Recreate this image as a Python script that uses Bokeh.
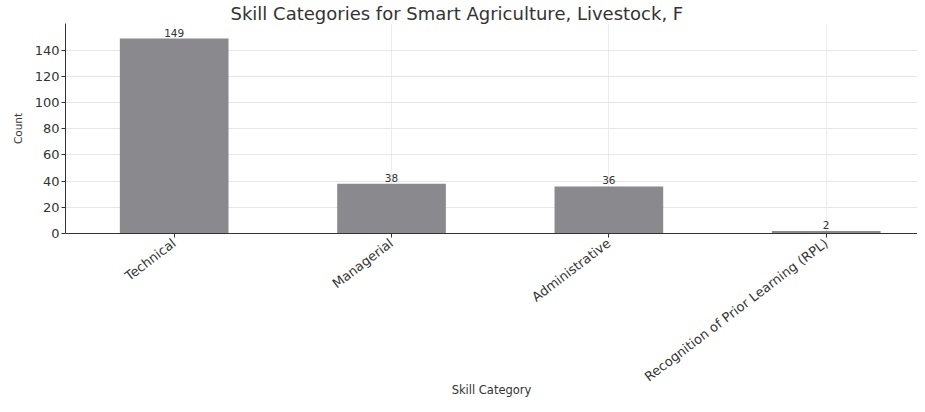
import math
from bokeh.plotting import figure
from bokeh.models import Range1d, FixedTicker, ColumnDataSource, LabelSet
from bokeh.core.properties import value
from bokeh.embed import file_html
from bokeh.resources import INLINE

categories = ["Technical", "Managerial", "Administrative", "Recognition of Prior Learning (RPL)"]
counts = [149, 38, 36, 2]
y_ticks = [0, 20, 40, 60, 80, 100, 120, 140]

xs = list(range(len(categories)))
src = ColumnDataSource(dict(x=xs, top=counts, label=[str(c) for c in counts]))

FONT = "DejaVu Sans"
p = figure(width=917, height=404, output_backend="svg", toolbar_location=None,
           x_range=Range1d(-0.5, 3.42), y_range=Range1d(0, 160.5),
           min_border_left=65, min_border_right=0, min_border_top=21, min_border_bottom=171,
           title="Skill Categories for Smart Agriculture, Livestock, F")
p.outline_line_color = None
p.background_fill_color = "white"
p.border_fill_color = "white"

p.title.text_font = FONT
p.title.text_font_size = "18px"
p.title.text_font_style = "normal"
p.title.text_color = "#333333"
p.title.align = "left"
p.title.offset = 165
p.title.standoff = 0

p.vbar(x="x", top="top", width=0.5, source=src, fill_color="#8a8a8e", line_color=None)

labels = LabelSet(x="x", y="top", text="label", source=src, text_align="center",
                  text_baseline="bottom", y_offset=2, text_font=value(FONT),
                  text_font_size=value("10.5px"), text_color="#333333")
p.add_layout(labels)

p.xaxis.ticker = FixedTicker(ticks=xs)
p.xaxis.major_label_overrides = {i: c for i, c in enumerate(categories)}
p.xaxis.major_label_orientation = 0.65
p.xaxis.major_label_standoff = 4
p.xaxis.axis_label = "Skill Category"
p.xaxis.axis_label_standoff = -10
p.yaxis.ticker = FixedTicker(ticks=y_ticks)
p.yaxis.axis_label = "Count"
p.yaxis.major_label_standoff = 2

for ax in (p.xaxis, p.yaxis):
    ax.axis_line_color = "#333333"
    ax.major_tick_line_color = "#333333"
    ax.minor_tick_line_color = None
    ax.major_tick_in = 0
    ax.major_tick_out = 4
    ax.major_label_text_font = FONT
    ax.major_label_text_color = "#333333"
    ax.axis_label_text_font = FONT
    ax.axis_label_text_font_style = "normal"
    ax.axis_label_text_color = "#333333"

p.xaxis.major_label_text_font_size = "13px"
p.yaxis.major_label_text_font_size = "13px"
p.xaxis.axis_label_text_font_size = "11.5px"
p.yaxis.axis_label_text_font_size = "10.5px"
p.yaxis.axis_label_standoff = 8

p.xgrid.grid_line_color = "#ececf0"
p.ygrid.grid_line_color = "#e6e6ea"
p.xgrid.ticker = FixedTicker(ticks=xs)

open("out.html", "w").write(file_html(p, INLINE))
